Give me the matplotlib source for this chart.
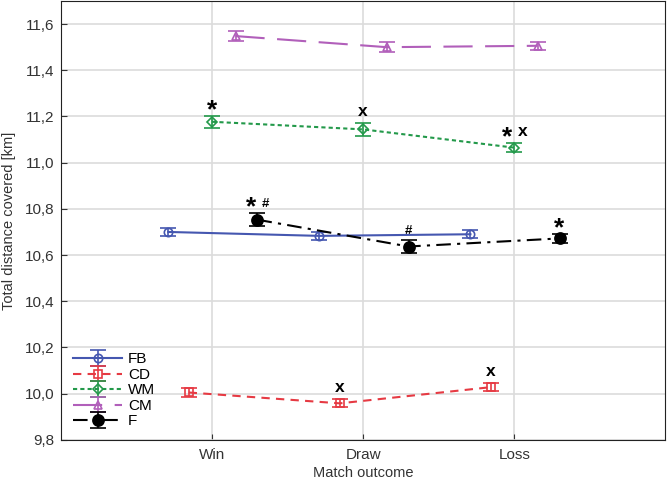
import numpy as np
import matplotlib
matplotlib.use("Agg")
import matplotlib.pyplot as plt

plt.rcParams['font.family'] = ['Liberation Sans', 'DejaVu Sans']

outcomes = ['Win', 'Draw', 'Loss']
positions = ['FB', 'CD', 'WM', 'CM', 'F']

fb = [10.70, 10.683, 10.69]
cd = [10.005, 9.958, 10.028]
wm = [11.177, 11.144, 11.065]
cm = [11.548, 11.50, 11.506]
f = [10.753, 10.637, 10.672]

fb_err = [0.018, 0.018, 0.018]
cd_err = [0.018, 0.018, 0.018]
wm_err = [0.025, 0.028, 0.018]
cm_err = [0.02, 0.022, 0.018]
f_err = [0.028, 0.028, 0.018]

# marks above points: (series, outcome index, text)
marks = [
    ('WM', 0, '*'), ('WM', 1, 'x'), ('WM', 2, '*x'),
    ('F', 0, '*#'), ('F', 1, '#'), ('F', 2, '*'),
    ('CD', 1, 'x'), ('CD', 2, 'x'),
]

x = np.array([1, 2, 3])
offs = {'FB': -0.29, 'CD': -0.155, 'WM': 0.0, 'CM': 0.155, 'F': 0.3}
vals = {'FB': fb, 'CD': cd, 'WM': wm, 'CM': cm, 'F': f}
errs = {'FB': fb_err, 'CD': cd_err, 'WM': wm_err, 'CM': cm_err, 'F': f_err}
cols = {'FB': '#4557b0', 'CD': '#e63a43', 'WM': '#23994a', 'CM': '#b15fba', 'F': 'black'}
styles = {'FB': '-', 'CD': (0, (4, 3)), 'WM': (0, (2, 1.5)), 'CM': (0, (14, 6)), 'F': (0, (7, 3, 1.5, 3))}
mk = {'FB': 'o', 'CD': 's', 'WM': 'D', 'CM': '^', 'F': 'o'}
ms = {'FB': 6, 'CD': 6, 'WM': 5, 'CM': 6, 'F': 8}

fig = plt.figure(figsize=(6.67, 4.86), dpi=100)
ax = fig.add_axes([0.0915, 0.095, 0.906, 0.903])

for p in positions:
    c = cols[p]
    face = c if p == 'F' else 'none'
    ax.errorbar(x + offs[p], vals[p], yerr=errs[p], color=c, ls=styles[p], lw=1.5,
                marker=mk[p], ms=ms[p], mfc=face, mec=c, mew=1.2,
                capsize=5.5, capthick=1.2, elinewidth=1.2, label=p, zorder=3)


def put(txt, px, py, dx, dy):
    size = {'*': 19, 'x': 12.5, '#': 9.5}[txt]
    ax.annotate(txt, (px, py), xytext=(dx, dy), textcoords='offset pixels',
                ha='center', va='bottom', fontsize=size, fontweight='bold')


for p, i, t in marks:
    px = x[i] + offs[p]
    py = vals[p][i] + errs[p][i]
    if t == '*':
        put('*', px, py, 0, -6)
    elif t == 'x':
        put('x', px, py, 0, 4)
    elif t == '#':
        put('#', px, py, 0, 3)
    elif t == '*x':
        put('*', px, py, -7, -6)
        put('x', px, py, 8, 4)
    elif t == '*#':
        put('*', px, py, -6, -6)
        put('#', px, py, 8, 3)

ax.set_xlim(0, 4)
ax.set_ylim(9.8, 11.7)
ax.set_xticks(x)
ax.set_xticklabels(outcomes)
yt = np.arange(9.8, 11.61, 0.2)
ax.set_yticks(yt)
ax.set_yticklabels([f'{v:.1f}'.replace('.', ',') for v in yt])
ax.tick_params(direction='in', labelsize=11, colors='#333333', length=4)
ax.tick_params(axis='x', pad=6)
ax.tick_params(axis='y', pad=5)
ax.grid(True, color='#dcdcdc', lw=1.2, zorder=0)
ax.set_axisbelow(True)
for s in ax.spines.values():
    s.set_color('#222222')
ax.set_xlabel('Match outcome', fontsize=10.5, color='#333333', labelpad=3)
ax.set_ylabel('Total distance covered [km]', fontsize=10.5, color='#333333', labelpad=6)

leg = ax.legend(loc='lower left', bbox_to_anchor=(0.005, 0.005), frameon=False,
                fontsize=11, handlelength=3.2, labelspacing=0.1, handletextpad=0.4,
                borderaxespad=0.2)

fig.savefig('out.png', dpi=100)
